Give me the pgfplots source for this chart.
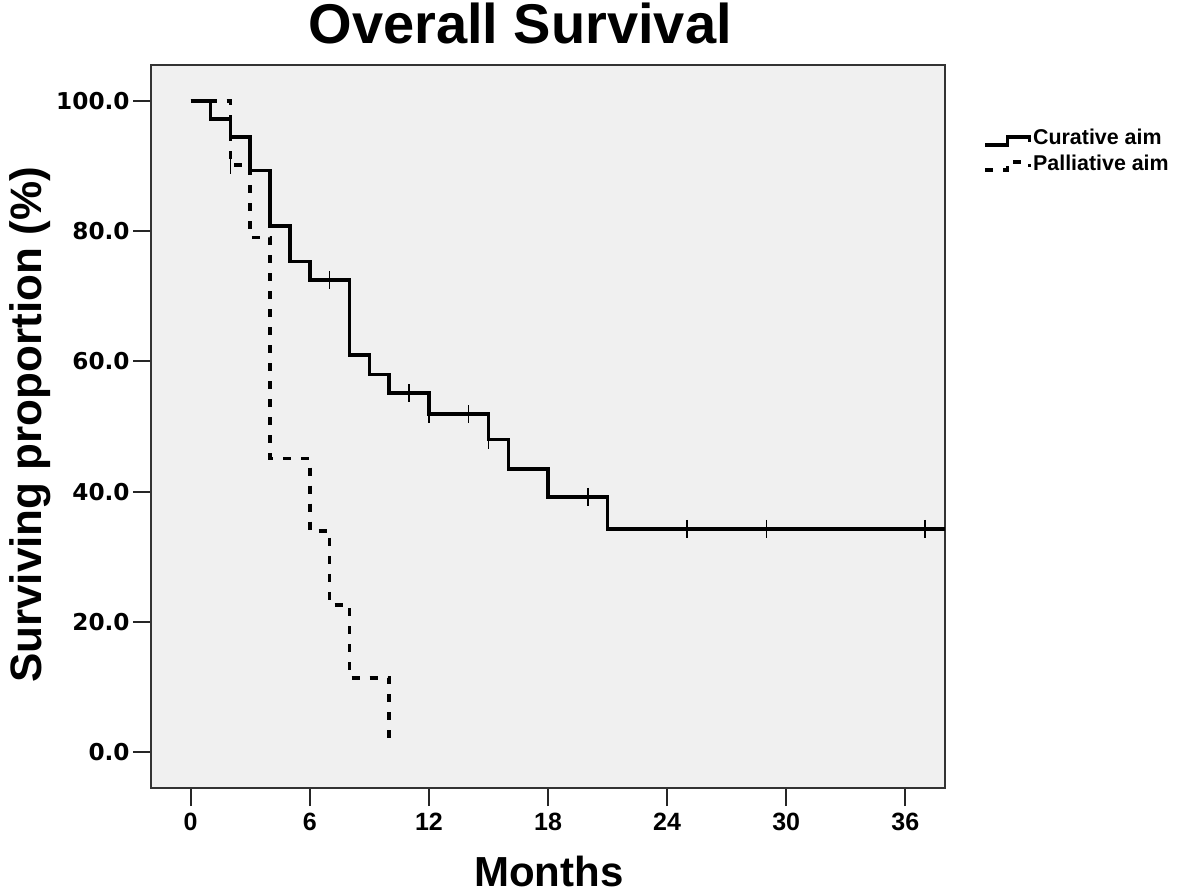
\documentclass[border=0pt]{standalone}
\usepackage{fontspec}
\setmainfont{Liberation Sans}
\newfontfamily\dvs{DejaVu Sans}
\usepackage{pgfplots}
\pgfplotsset{compat=1.18}
\definecolor{bgc}{HTML}{F0F0F0}
\begin{document}
\begin{tikzpicture}
\begin{axis}[
  at={(75.5pt,52.5pt)}, anchor=south west,
  scale only axis, width=397pt, height=361.5pt,
  xmin=-2, xmax=38, ymin=-5.5, ymax=105.5,
  axis background/.style={fill=bgc},
  axis line style={line width=1pt, draw=black!80},
  tick align=outside, major tick length=9pt,
  tick style={line width=1pt, black!85},
  xtick={0,6,...,36}, ytick={0,20,...,100},
  xtick pos=bottom, ytick pos=left,
  minor tick num=0,
  scaled y ticks=false,
  /pgf/number format/assume math mode=true,
  yticklabel style={/pgf/number format/.cd, fixed, fixed zerofill, precision=1, /tikz/.cd, font=\dvs\bfseries\fontsize{11.6}{13}\selectfont, inner xsep=1.5pt},
  xticklabel style={font=\bfseries\fontsize{12.5}{14}\selectfont},
  title={Overall Survival},
  every axis title/.style={at={(0.465,1.0304)}, anchor=base, font=\bfseries\fontsize{28}{32}\selectfont},
  xlabel={Months},
  every axis x label/.style={at={(0.501,-0.1369)}, anchor=base, font=\bfseries\fontsize{21}{24}\selectfont},
  ylabel={Surviving proportion (\%)},
  every axis y label/.style={at={(-0.1373,0.502)}, anchor=base, rotate=90, font=\bfseries\fontsize{22}{25}\selectfont},
  legend style={at={(1.048,0.9145)}, anchor=north west, draw=none, fill=none, inner sep=0pt, row sep=1.5pt,
    nodes={inner sep=1pt, anchor=base west}, font=\bfseries\fontsize{10.7}{12}\selectfont},
  legend cell align=left,
  legend image code/.code={\draw[#1, mark=none] (0pt,0pt) -- (11pt,0pt) -- (11pt,4pt) -- (22pt,4pt) -- (22pt,1.5pt);},
]
\addplot[const plot, black, line width=1.8pt, mark=none] coordinates {
(0,100) (1,97.2) (2,94.4) (3,89.3) (4,80.8) (5,75.3) (6,72.5) (8,61.0) (9,58.0) (10,55.1) (12,51.9) (15,48.0) (16,43.5) (18,39.2) (21,34.3) (38,34.3)};
\addlegendentry{Curative aim}
\addplot[const plot, black, line width=1.8pt, dash pattern=on 4pt off 5pt, mark=none] coordinates {
(0,100) (2,90.1) (3,79.0) (4,45.1) (6,34.0) (7,22.6) (8,11.4) (10,1.5)};
\addlegendentry{Palliative aim}
\addplot[forget plot, only marks, mark=|, mark size=4.5pt, mark options={line width=0.8pt, black}] coordinates {
(7,72.5) (11,55.1) (12,51.9) (14,51.9) (15,48.0) (20,39.2) (25,34.3) (29,34.3) (37,34.3) (2,90.1)};
\end{axis}
\pgfresetboundingbox
\path[use as bounding box] (0,0) rectangle (590.5pt,446.5pt);
\end{tikzpicture}
\end{document}
